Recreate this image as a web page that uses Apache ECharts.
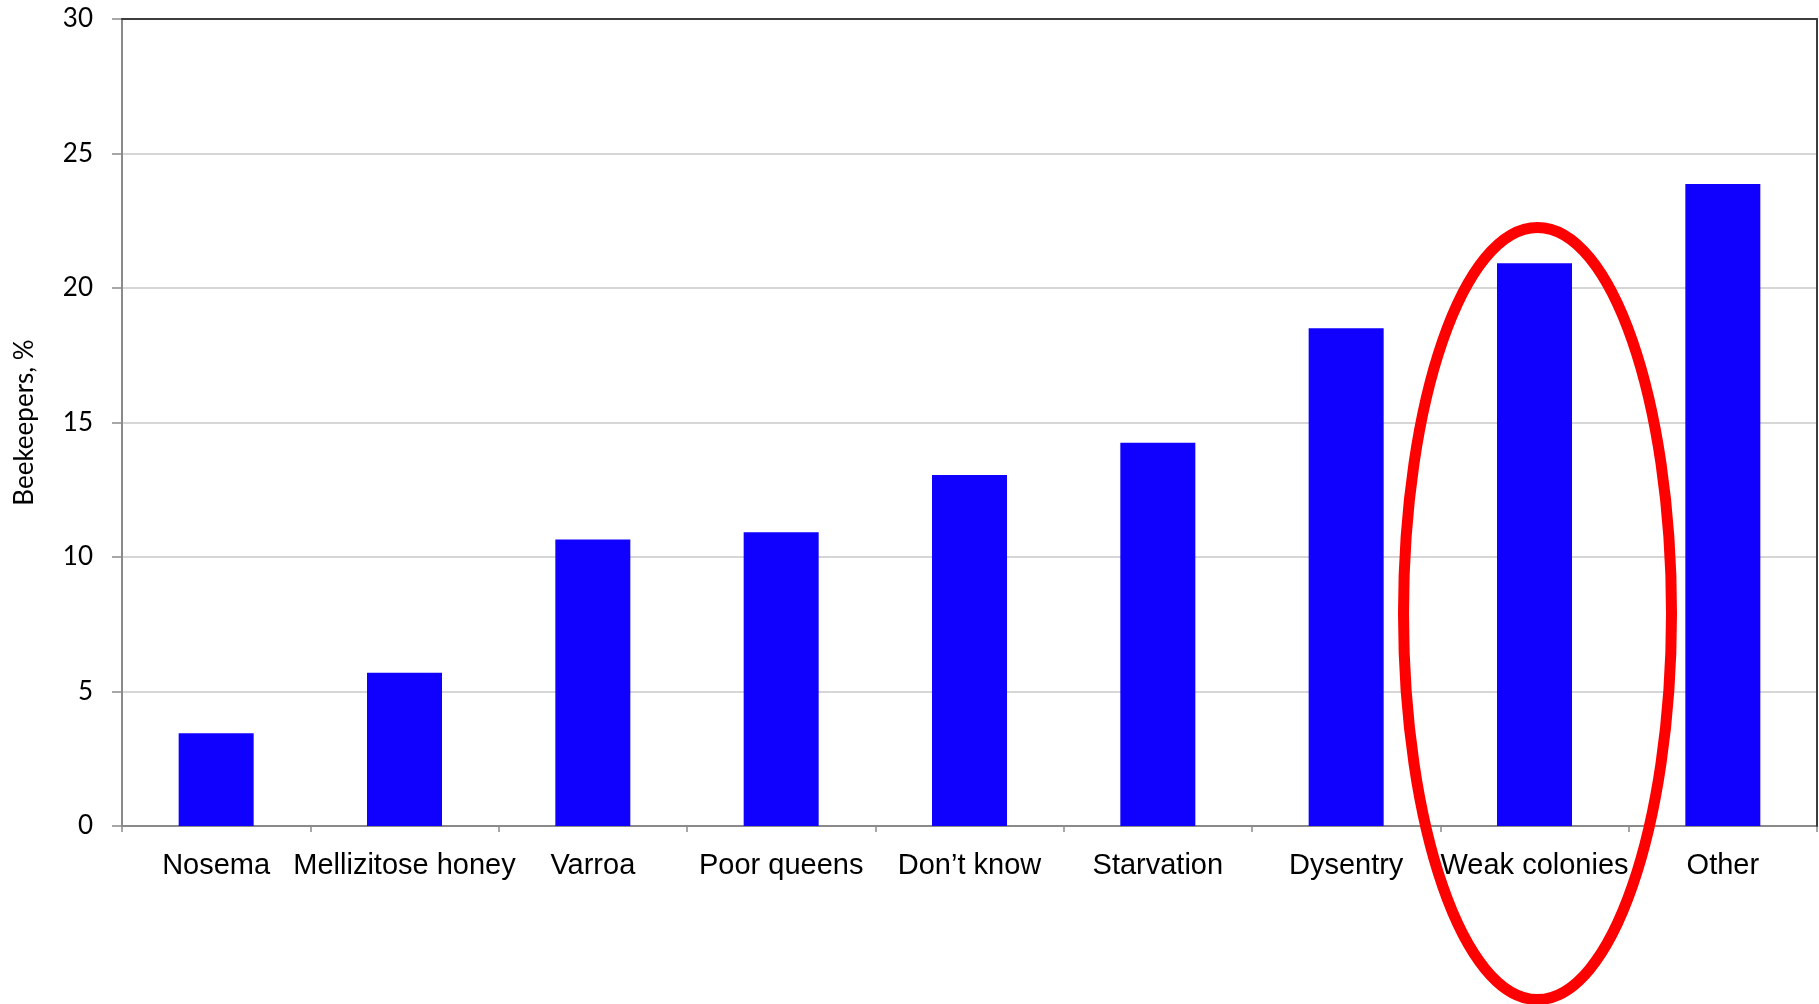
<!DOCTYPE html>
<html>
<head>
<meta charset="utf-8">
<title>Beekeepers, %</title>
<script src="https://cdn.jsdelivr.net/npm/echarts@6/dist/echarts.min.js"></script>
<style>
  html, body { margin: 0; padding: 0; background: #ffffff; }
  #chart { width: 1819px; height: 1004px; }
</style>
</head>
<body>
<div id="chart"></div>
<script>
// Reported causes of colony loss, share of beekeepers (%)
const categories = ['Nosema', 'Mellizitose honey', 'Varroa', 'Poor queens', 'Don\u2019t know',
                    'Starvation', 'Dysentry', 'Weak colonies', 'Other'];
const beekeepersPct = [3.45, 5.7, 10.65, 10.92, 13.05, 14.25, 18.5, 20.92, 23.87];
const yTicks = [0, 5, 10, 15, 20, 25, 30];
const highlighted = 'Weak colonies';

const chart = echarts.init(document.getElementById('chart'), null, { renderer: 'canvas' });

const option = {
  backgroundColor: '#ffffff',
  animation: false,
  grid: { left: 122, right: 2, top: 19, bottom: 178, containLabel: false },
  xAxis: [
    {
      type: 'category',
      data: categories,
      axisLine: { show: true, lineStyle: { color: '#8a8a8a', width: 2 } },
      axisTick: { show: true, length: 6, lineStyle: { color: '#8a8a8a', width: 1.5 } },
      axisLabel: {
        color: '#000000', fontFamily: 'Liberation Sans, Arial, sans-serif',
        fontSize: 29, margin: 25, interval: 0
      }
    },
    {
      // frame line along the top of the plot area
      type: 'category', position: 'top', data: categories, z: 10,
      axisLine: { show: true, onZero: false, lineStyle: { color: '#3c3c3c', width: 2 } },
      axisTick: { show: false }, axisLabel: { show: false }
    }
  ],
  yAxis: [
    {
      type: 'value',
      min: yTicks[0], max: yTicks[yTicks.length - 1], interval: 5,
      name: 'Beekeepers, %',
      nameLocation: 'middle', nameGap: 84, nameRotate: 90,
      nameTextStyle: { color: '#000000', fontFamily: 'Lato, sans-serif', fontSize: 26 },
      axisLine: { show: true, lineStyle: { color: '#8a8a8a', width: 2 } },
      axisTick: { show: true, length: 10, lineStyle: { color: '#8a8a8a', width: 1.5 } },
      axisLabel: { color: '#000000', fontFamily: 'Lato, sans-serif', fontSize: 26, margin: 29 },
      splitLine: {
        show: true, showMinLine: false, showMaxLine: false,
        lineStyle: { color: '#d6d6d6', width: 2 }
      }
    },
    {
      // frame line along the right side of the plot area
      type: 'value', position: 'right', z: 10,
      min: yTicks[0], max: yTicks[yTicks.length - 1], interval: 5,
      axisLine: { show: true, onZero: false, lineStyle: { color: '#3c3c3c', width: 2 } },
      axisTick: { show: false }, axisLabel: { show: false }, splitLine: { show: false }
    }
  ],
  series: [
    {
      type: 'bar',
      data: beekeepersPct,
      barWidth: 75,
      itemStyle: { color: '#1000fe' }
    }
  ]
};

chart.setOption(option);

// Red ellipse drawn around the highlighted category
const cx = chart.convertToPixel({ xAxisIndex: 0 }, highlighted) + 3;
const yTop = chart.convertToPixel({ yAxisIndex: 0 }, 22.25);
const ry = 386;
chart.setOption({
  graphic: [
    {
      type: 'ellipse',
      shape: { cx: cx, cy: yTop + ry, rx: 134, ry: ry },
      style: { fill: 'none', stroke: '#ff0000', lineWidth: 11 },
      z: 100
    }
  ]
});
</script>
</body>
</html>
